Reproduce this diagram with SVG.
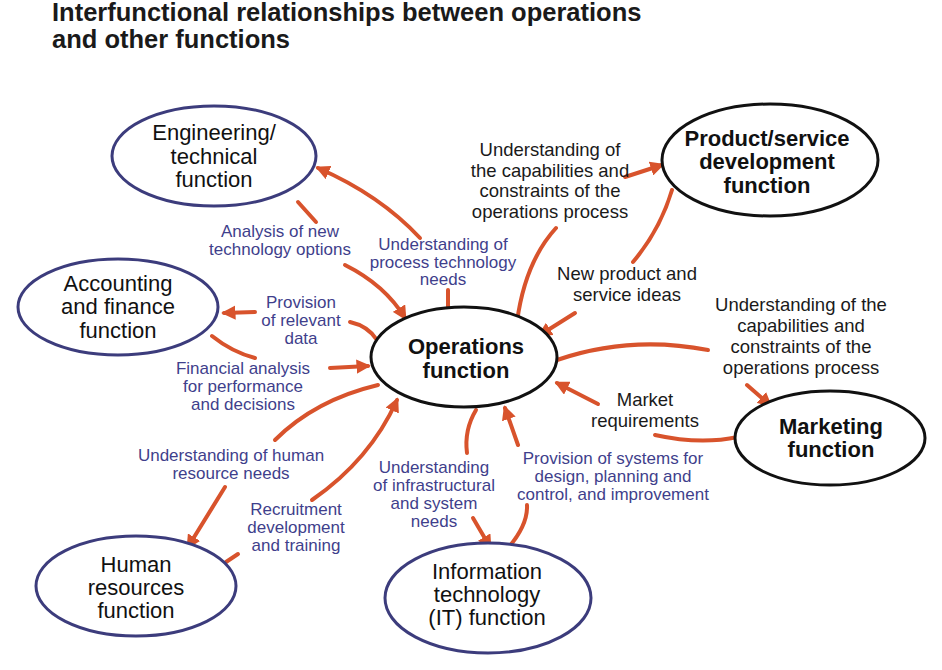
<svg xmlns="http://www.w3.org/2000/svg" width="942" height="670" viewBox="0 0 942 670">
<defs>
<marker id="ah" viewBox="0 0 10 10" refX="8" refY="5" markerWidth="3.6" markerHeight="3.6" orient="auto"><path d="M0,0 L10,5 L0,10 Z" fill="#d8532c"/></marker>
<style>
.c{fill:none;stroke:#d8532c;stroke-width:4;stroke-linecap:round}
.a{marker-end:url(#ah)}
.nb{fill:#fff;stroke:#3c3c7c;stroke-width:3}
.nk{fill:#fff;stroke:#111;stroke-width:3}
text{font-family:"Liberation Sans",Arial,sans-serif;text-anchor:middle}
.n{font-size:22px;fill:#111}
.b{font-weight:bold}
.lb{font-size:17px;fill:#3f3f8c}
.lk{font-size:18.5px;fill:#1a1a1a}
</style>
</defs>
<rect width="942" height="670" fill="#fff"/>
<text x="52" y="21" style="text-anchor:start;font-size:25.5px;font-weight:bold;fill:#1a1a1a">Interfunctional relationships between operations</text>
<text x="52" y="48" style="text-anchor:start;font-size:25.5px;font-weight:bold;fill:#1a1a1a">and other functions</text>
<g id="connectors">
<path class="c a" d="M420,238 Q380,195 318,168"/>
<path class="c" d="M298,202 L316,222"/>
<path class="c a" d="M345,265 Q385,285 405,318"/>
<path class="c" d="M448,290 L448,312"/>
<path class="c a" d="M255,312 L224,313"/>
<path class="c" d="M350,322 Q368,326 377,340"/>
<path class="c" d="M212,336 Q232,352 255,358"/>
<path class="c a" d="M330,368 L368,366"/>
<path class="c" d="M378,385 Q315,400 275,440"/>
<path class="c a" d="M225,487 L188,547"/>
<path class="c" d="M226,562 L238,554"/>
<path class="c a" d="M312,500 Q370,460 397,400"/>
<path class="c" d="M476,410 Q464,430 467,453"/>
<path class="c a" d="M473,518 L490,547"/>
<path class="c" d="M508,548 Q528,525 527,505"/>
<path class="c a" d="M518,445 L505,408"/>
<path class="c" d="M517,322 Q525,262 556,228"/>
<path class="c a" d="M625,177 L662,165"/>
<path class="c" d="M672,190 Q660,230 633,262"/>
<path class="c a" d="M575,313 L540,335"/>
<path class="c" d="M557,360 Q630,335 708,350"/>
<path class="c a" d="M747,385 L770,405"/>
<path class="c" d="M738,437 Q700,445 655,435"/>
<path class="c a" d="M598,404 L557,383"/>
</g>
<g id="engineering"><ellipse class="nb" cx="214" cy="156" rx="102" ry="50"/>
<text class="n" x="214" y="140">Engineering/</text><text class="n" x="214" y="164">technical</text><text class="n" x="214" y="187">function</text></g>
<g id="accounting"><ellipse class="nb" cx="118" cy="307" rx="100" ry="48"/>
<text class="n" x="118" y="291">Accounting</text><text class="n" x="118" y="314">and finance</text><text class="n" x="118" y="338">function</text></g>
<g id="operations"><ellipse class="nk" cx="464" cy="357" rx="93" ry="50"/>
<text class="n b" x="466" y="354">Operations</text><text class="n b" x="466" y="378">function</text></g>
<g id="product"><ellipse class="nk" cx="770" cy="160" rx="108" ry="56"/>
<text class="n b" x="767" y="146">Product/service</text><text class="n b" x="767" y="169">development</text><text class="n b" x="767" y="193">function</text></g>
<g id="marketing"><ellipse class="nk" cx="830" cy="438" rx="95" ry="47"/>
<text class="n b" x="831" y="434">Marketing</text><text class="n b" x="831" y="457">function</text></g>
<g id="hr"><ellipse class="nb" cx="136" cy="586" rx="100" ry="50"/>
<text class="n" x="136" y="572">Human</text><text class="n" x="136" y="595">resources</text><text class="n" x="136" y="618">function</text></g>
<g id="it"><ellipse class="nb" cx="488" cy="598" rx="103" ry="55"/>
<text class="n" x="487" y="579">Information</text><text class="n" x="487" y="602">technology</text><text class="n" x="487" y="625">(IT) function</text></g>
<g id="labels">
<text class="lb" x="280" y="237">Analysis of new</text><text class="lb" x="280" y="255">technology options</text>
<text class="lb" x="443" y="250">Understanding of</text><text class="lb" x="443" y="268">process technology</text><text class="lb" x="443" y="285">needs</text>
<text class="lb" x="301" y="308">Provision</text><text class="lb" x="301" y="326">of relevant</text><text class="lb" x="301" y="344">data</text>
<text class="lb" x="243" y="374">Financial analysis</text><text class="lb" x="243" y="392">for performance</text><text class="lb" x="243" y="410">and decisions</text>
<text class="lb" x="231" y="461">Understanding of human</text><text class="lb" x="231" y="479">resource needs</text>
<text class="lb" x="296" y="515">Recruitment</text><text class="lb" x="296" y="533">development</text><text class="lb" x="296" y="551">and training</text>
<text class="lb" x="434" y="473">Understanding</text><text class="lb" x="434" y="491">of infrastructural</text><text class="lb" x="434" y="509">and system</text><text class="lb" x="434" y="527">needs</text>
<text class="lb" x="613" y="464">Provision of systems for</text><text class="lb" x="613" y="482">design, planning and</text><text class="lb" x="613" y="500">control, and improvement</text>
<text class="lk" x="550" y="156">Understanding of</text><text class="lk" x="550" y="177">the capabilities and</text><text class="lk" x="550" y="197">constraints of the</text><text class="lk" x="550" y="218">operations process</text>
<text class="lk" x="627" y="280">New product and</text><text class="lk" x="627" y="301">service ideas</text>
<text class="lk" x="801" y="311">Understanding of the</text><text class="lk" x="801" y="332">capabilities and</text><text class="lk" x="801" y="353">constraints of the</text><text class="lk" x="801" y="374">operations process</text>
<text class="lk" x="645" y="406">Market</text><text class="lk" x="645" y="427">requirements</text>
</g>
</svg>
